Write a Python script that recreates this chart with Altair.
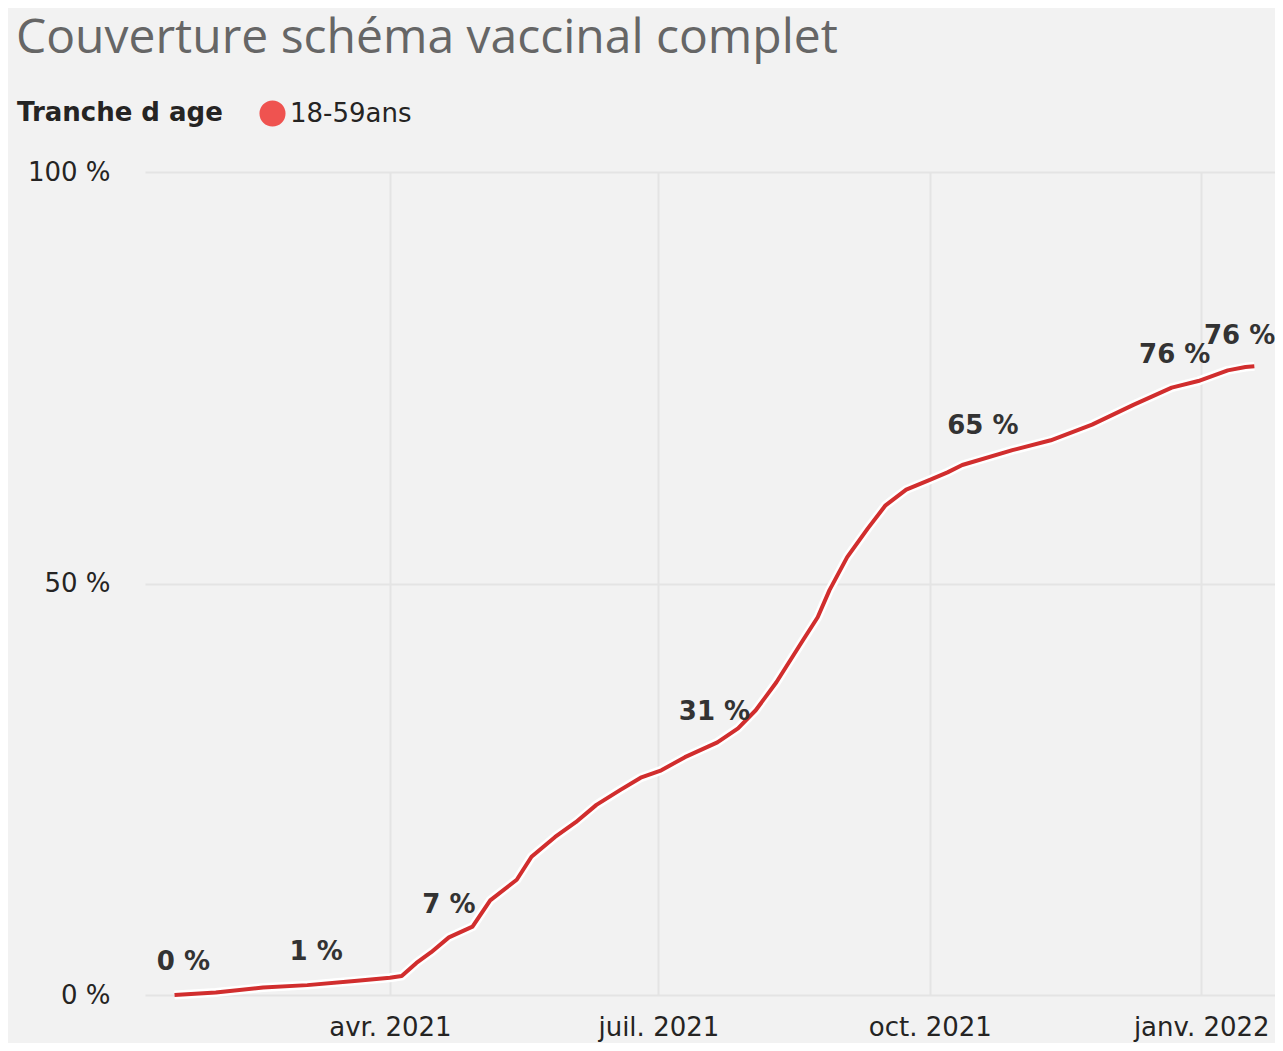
import altair as alt
import pandas as pd

title_text = "Couverture schéma vaccinal complet"
legend_title = "Tranche d age"
series_name = "18-59ans"

dates = [
    "2021-01-18", "2021-02-01", "2021-02-17", "2021-03-04", "2021-03-20",
    "2021-04-01", "2021-04-05", "2021-04-10", "2021-04-15", "2021-04-21",
    "2021-04-29", "2021-05-05", "2021-05-14", "2021-05-19", "2021-05-27",
    "2021-06-03", "2021-06-10", "2021-06-18", "2021-06-25", "2021-07-02",
    "2021-07-10", "2021-07-21", "2021-07-28", "2021-08-03", "2021-08-10",
    "2021-08-19", "2021-08-24", "2021-08-28", "2021-09-03", "2021-09-10",
    "2021-09-16", "2021-09-23", "2021-10-01", "2021-10-07", "2021-10-12",
    "2021-10-29", "2021-11-11", "2021-11-25", "2021-12-09", "2021-12-22",
    "2021-12-31", "2022-01-10", "2022-01-16", "2022-01-19",
]
values = [
    0.0, 0.3, 0.9, 1.2, 1.7,
    2.1, 2.3, 3.9, 5.2, 7.0,
    8.3, 11.5, 14.0, 16.8, 19.2,
    21.0, 23.1, 24.9, 26.4, 27.3,
    28.9, 30.7, 32.4, 34.6, 38.0,
    43.1, 45.9, 49.2, 53.2, 56.7,
    59.5, 61.4, 62.6, 63.5, 64.4,
    66.2, 67.4, 69.3, 71.7, 73.8,
    74.6, 75.9, 76.3, 76.4,
]

label_dates = ["2021-01-21", "2021-03-07", "2021-04-21", "2021-07-20",
               "2021-10-19", "2021-12-23", "2022-01-14"]
label_values = [0.1, 1.3, 7.0, 30.5, 65.3, 73.9, 76.2]
label_texts = ["0 %", "1 %", "7 %", "31 %", "65 %", "76 %", "76 %"]

x_tick_dates = [(2021, 4, 1), (2021, 7, 1), (2021, 10, 1), (2022, 1, 1)]
x_tick_labels = ["avr. 2021", "juil. 2021", "oct. 2021", "janv. 2022"]
y_ticks = [0, 50, 100]

df = pd.DataFrame({"date": dates, "value": values, "serie": series_name})
lab = pd.DataFrame({"date": label_dates, "value": label_values, "text": label_texts})

label_expr = "''"
for (yy, mm, dd), txt in reversed(list(zip(x_tick_dates, x_tick_labels))):
    key = f"{yy:04d}-{mm:02d}-{dd:02d}"
    label_expr = f"utcFormat(datum.value, '%Y-%m-%d') == '{key}' ? '{txt}' : ({label_expr})"

FONT = "DejaVu Sans"
TFONT = "Open Sans"
TXT = "#252423"

x_enc = alt.X(
    "date:T",
    scale=alt.Scale(
        type="utc",
        domain=[alt.DateTime(year=2021, month=1, date=8, utc=True),
                alt.DateTime(year=2022, month=1, date=26, utc=True)],
    ),
    axis=alt.Axis(
        title=None,
        values=[alt.DateTime(year=y, month=m, date=d, utc=True) for (y, m, d) in x_tick_dates],
        labelExpr=label_expr,
        labelFontSize=26,
        labelFont=FONT,
        labelColor=TXT,
        labelPadding=19,
        labelFlush=False,
        labelOverlap=False,
        grid=True,
        gridColor="#e4e4e4",
        gridWidth=2,
        domain=False,
        ticks=False,
    ),
)
y_enc = alt.Y(
    "value:Q",
    scale=alt.Scale(domain=[0, 100], nice=False),
    axis=alt.Axis(
        title=None,
        values=y_ticks,
        labelExpr="datum.value + ' %'",
        labelFontSize=26,
        labelFont=FONT,
        labelColor=TXT,
        labelPadding=35,
        grid=True,
        gridColor="#e4e4e4",
        gridWidth=2,
        domain=False,
        ticks=False,
    ),
)

halo = alt.Chart(df).mark_line(stroke="white", strokeWidth=9, strokeJoin="round").encode(
    x=x_enc, y=y_enc
)
line = alt.Chart(df).mark_line(strokeWidth=4, strokeJoin="round").encode(
    x=x_enc,
    y=y_enc,
    color=alt.Color(
        "serie:N",
        scale=alt.Scale(range=["#d12e2e"]),
        legend=alt.Legend(
            title=legend_title,
            orient="none",
            legendX=-128,
            legendY=-72,
            direction="horizontal",
            titleOrient="left",
            titleFontSize=26,
            titleFont=FONT,
            titleFontWeight="bold",
            titleColor=TXT,
            titleLimit=600,
            titlePadding=36,
            labelFontSize=26,
            labelFont=FONT,
            labelColor=TXT,
            labelLimit=400,
            labelOffset=4,
            symbolType="circle",
            symbolSize=680,
            symbolFillColor="#ef5350",
            symbolStrokeWidth=0,
        ),
    ),
)
texts = alt.Chart(lab).mark_text(
    dy=-32, fontSize=26, font=FONT, fontWeight="bold", color="#333333", baseline="middle"
).encode(x=x_enc, y=y_enc, text="text:N")

chart = (
    alt.layer(halo, line, texts)
    .properties(
        width=1130,
        height=823,
        title=alt.Title(
            title_text,
            anchor="start",
            frame="group",
            fontSize=48,
            font=TFONT,
            fontWeight="normal",
            color="#666666",
            dx=-129,
            offset=37,
        ),
        background="#f2f2f2",
        padding={"left": 137, "top": 164, "right": 0, "bottom": 48},
        autosize=alt.AutoSizeParams(type="none"),
    )
    .configure_view(stroke=None)
)

chart.save("out.html", embed_options={"renderer": "svg", "actions": False})
